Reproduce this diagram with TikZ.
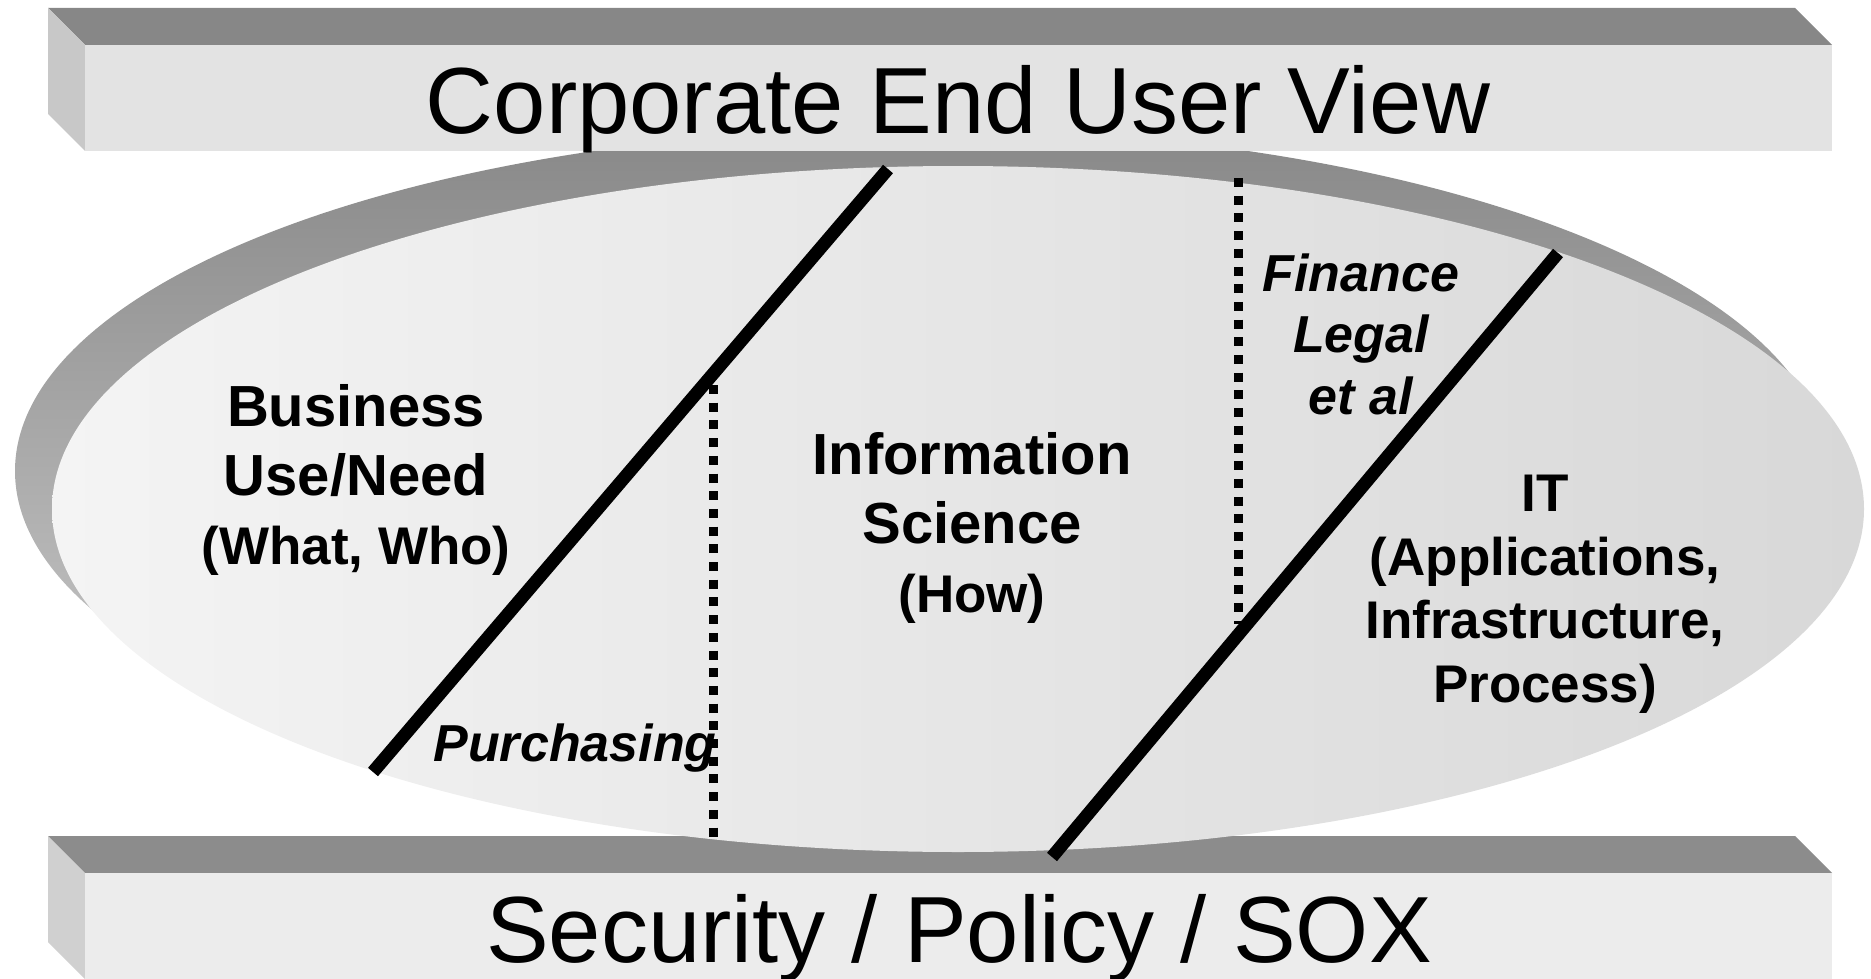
\documentclass[tikz,border=0pt]{standalone}
\usepackage{fontspec}
\setmainfont{Liberation Sans}
\definecolor{barTopFace}{HTML}{878787}
\definecolor{barSideFace}{HTML}{C8C8C8}
\definecolor{barFrontFace}{HTML}{E3E3E3}
\definecolor{botTopFace}{HTML}{8C8C8C}
\definecolor{botSideFace}{HTML}{D0D0D0}
\definecolor{botFrontFace}{HTML}{ECECEC}
\definecolor{shadowTop}{HTML}{888888}
\definecolor{shadowBot}{HTML}{D0D0D0}
\definecolor{ellLeft}{HTML}{F4F4F4}
\definecolor{ellRight}{HTML}{D8D8D8}
\newcommand{\smallparen}{\fontsize{53}{69}\selectfont}
\begin{document}
\begin{tikzpicture}[x=1pt,y=-1pt,
  titletext/.style={inner sep=0pt, anchor=base, font=\fontsize{94}{110}\selectfont},
  bigbold/.style={inner sep=0pt, anchor=base, align=center, font=\fontsize{58}{69}\selectfont\bfseries},
  midbold/.style={inner sep=0pt, anchor=base, align=center, font=\fontsize{53}{63.5}\selectfont\bfseries},
  boldital/.style={inner sep=0pt, anchor=base, align=center, font=\fontsize{52}{61.5}\selectfont\bfseries\itshape},
  divider/.style={line width=13pt, line cap=butt},
  dotdivider/.style={line width=9pt, dash pattern=on 9pt off 8.7pt}]
\useasboundingbox (0,0) rectangle (1871,979);
% bottom bar
\fill[botTopFace] (48,836) -- (1795,836) -- (1832,873) -- (85,873) -- cycle;
\fill[botSideFace] (48,836) -- (85,873) -- (85,979) -- (48,942) -- cycle;
\fill[botFrontFace] (85,873) rectangle (1832,979);
% ellipse shadow and ellipse
\shade[top color=shadowTop, bottom color=shadowBot] (921,471) ellipse [x radius=906, y radius=343];
\shade[left color=ellLeft, right color=ellRight] (958,509) ellipse [x radius=906, y radius=343];
% top bar
\fill[barTopFace] (48,8) -- (1795,8) -- (1832,45) -- (85,45) -- cycle;
\fill[barSideFace] (48,8) -- (85,45) -- (85,151) -- (48,114) -- cycle;
\fill[barFrontFace] (85,45) rectangle (1832,151);
% dividers
\coordinate (d1a) at (373,772);
\coordinate (d1b) at (888,169);
\coordinate (d2a) at (1052,857);
\coordinate (d2b) at (1558,253);
\coordinate (p1a) at (713,385);
\coordinate (p1b) at (713,842);
\coordinate (p2a) at (1238,178);
\coordinate (p2b) at (1238,624);
\draw[dotdivider] (p1a) -- (p1b);
\draw[dotdivider] (p2a) -- (p2b);
\draw[divider] (d1a) -- (d1b);
\draw[divider] (d2a) -- (d2b);
% texts
\node[titletext] (topview) at (958,134) {Corporate End User View};
\node[titletext] (security) at (959,962) {Security / Policy / SOX};
\node[bigbold] (business) at (356,564) {Business\\Use/Need\\{\smallparen (What, Who)}};
\node[bigbold] (infosci) at (972,612) {Information\\Science\\{\smallparen (How)}};
\node[midbold] (itgroup) at (1545,702) {IT\\(Applications,\\Infrastructure,\\Process)};
\node[boldital] (finance) at (1361,414) {Finance\\Legal\\et al};
\node[boldital] (purchasing) at (575,761) {Purchasing};
\end{tikzpicture}
\end{document}
